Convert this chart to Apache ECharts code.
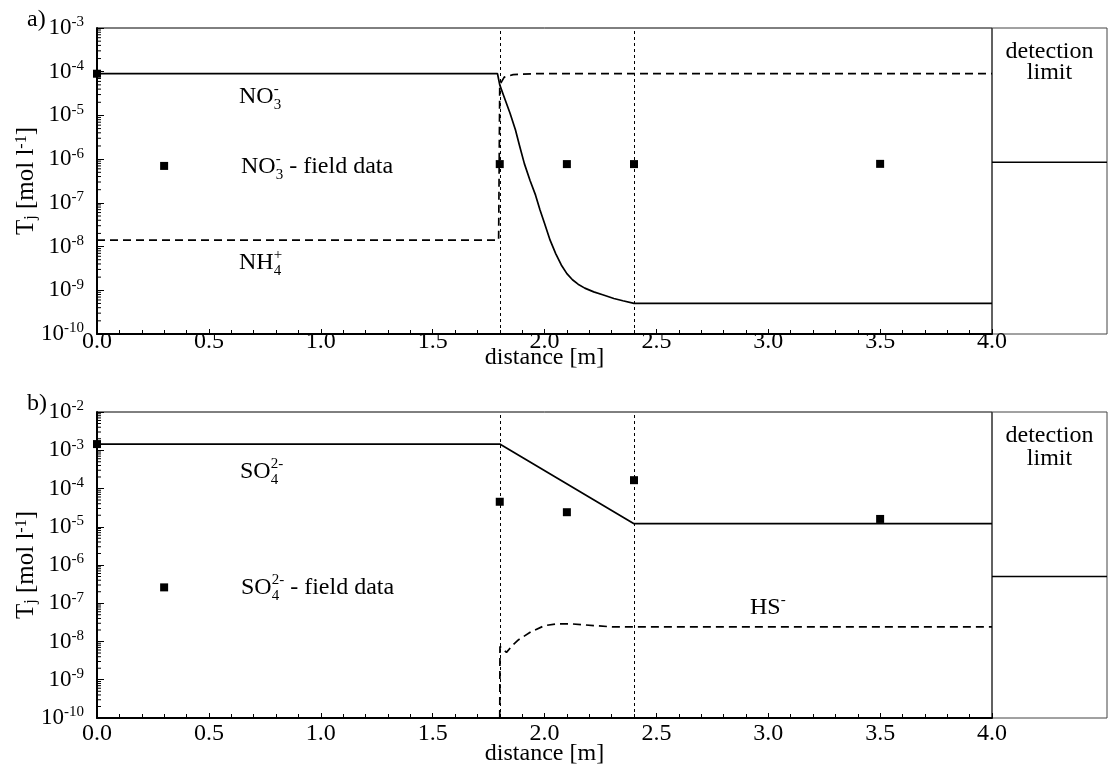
<!DOCTYPE html>
<html>
<head>
<meta charset="utf-8">
<script src="https://cdn.jsdelivr.net/npm/echarts@6/dist/echarts.min.js"></script>
<style>
html,body{margin:0;padding:0;background:#fff;}
#chart{width:1112px;height:782px;}
</style>
</head>
<body>
<div id="chart"></div>
<script>
// ---------- DATA ----------
// panel a
const no3ModelX = [0, 1.79, 1.80, 1.82, 1.846, 1.87, 1.89, 1.91, 1.935, 1.96, 1.98, 2.00, 2.025, 2.05, 2.075, 2.10, 2.125, 2.15, 2.18, 2.22, 2.26, 2.31, 2.35, 2.40, 4.0];
const no3ModelY = [9e-5, 9e-5, 5.0e-5, 2.6e-5, 1.12e-5, 4.7e-6, 1.9e-6, 7.9e-7, 3.3e-7, 1.5e-7, 6.9e-8, 3.4e-8, 1.4e-8, 6.9e-9, 3.8e-9, 2.4e-9, 1.74e-9, 1.38e-9, 1.12e-9, 9.2e-10, 7.9e-10, 6.5e-10, 5.75e-10, 5.0e-10, 5.0e-10];
const nh4ModelX = [0, 1.78, 1.795, 1.80, 1.82, 1.86, 1.95, 4.0];
const nh4ModelY = [1.4e-8, 1.4e-8, 1.4e-8, 5e-5, 7.5e-5, 8.6e-5, 9e-5, 9e-5];
const no3FieldX = [0, 0.3, 1.8, 2.1, 2.4, 3.5];
const no3FieldY = [9e-5, 7e-7, 7.7e-7, 7.7e-7, 7.7e-7, 7.8e-7];
const detLimitA = 8.5e-7;
// panel b
const so4ModelX = [0, 1.8, 2.4, 4.0];
const so4ModelY = [1.45e-3, 1.45e-3, 1.2e-5, 1.2e-5];
const hsModelX = [1.80, 1.801, 1.83, 1.86, 1.883, 1.94, 2.0, 2.055, 2.115, 2.22, 2.31, 2.40, 4.0];
const hsModelY = [1e-10, 7.4e-9, 5.2e-9, 8.3e-9, 1.1e-8, 1.8e-8, 2.6e-8, 2.9e-8, 2.9e-8, 2.6e-8, 2.4e-8, 2.4e-8, 2.4e-8];
const so4FieldX = [0, 0.3, 1.8, 2.1, 2.4, 3.5];
const so4FieldY = [1.45e-3, 2.6e-7, 4.5e-5, 2.4e-5, 1.65e-4, 1.6e-5];
const detLimitB = 5e-7;
// boundaries (vertical dotted lines)
const boundaries = [1.8, 2.4];
// axes
const xMin = 0, xMax = 4, xStep = 0.5;
const yMinA = 1e-10, yMaxA = 1e-3;
const yMinB = 1e-10, yMaxB = 1e-2;

// ---------- helpers ----------
const FONT = '"Liberation Serif", "Times New Roman", serif';
const zip = (xs, ys) => xs.map((x, i) => [x, ys[i]]);
function minorTickData(minV, maxV) {
  const out = [];
  const e0 = Math.round(Math.log10(minV)), e1 = Math.round(Math.log10(maxV));
  for (let e = e0; e < e1; e++) for (let m = 2; m <= 9; m++) out.push([0, m * Math.pow(10, e)]);
  return out;
}
const ctx = document.createElement('canvas').getContext('2d');
function tw(text, size) { ctx.font = size + 'px ' + FONT; return ctx.measureText(text).width; }

function chemLabel(x, y, main, sub, sup, tail) {
  const els = [];
  const M = 24, S = 15;
  els.push({type: 'text', x: x, y: y, style: {text: main, font: M + 'px ' + FONT, fill: '#000', align: 'left', verticalAlign: 'middle'}});
  let w = tw(main, M);
  let extra = 0;
  if (sub) {
    els.push({type: 'text', x: x + w, y: y + 8, style: {text: sub, font: S + 'px ' + FONT, fill: '#000', align: 'left', verticalAlign: 'middle'}});
    extra = Math.max(extra, tw(sub, S));
  }
  if (sup) {
    els.push({type: 'text', x: x + w, y: y - 8, style: {text: sup, font: S + 'px ' + FONT, fill: '#000', align: 'left', verticalAlign: 'middle'}});
    extra = Math.max(extra, tw(sup, S));
  }
  if (tail) {
    els.push({type: 'text', x: x + w + extra, y: y, style: {text: tail, font: M + 'px ' + FONT, fill: '#000', align: 'left', verticalAlign: 'middle'}});
  }
  return els;
}
function plainText(x, y, t, align) {
  return {type: 'text', x: x, y: y, style: {text: t, font: '24px ' + FONT, fill: '#000', align: align || 'left', verticalAlign: 'middle'}};
}

const yLabelRich = {
  b: {fontFamily: FONT, fontSize: 23, color: '#000', lineHeight: 26},
  s: {fontFamily: FONT, fontSize: 15, color: '#000', verticalAlign: 'top', lineHeight: 15}
};
const nameRich = {
  n: {fontFamily: FONT, fontSize: 25, color: '#000'},
  sub: {fontFamily: FONT, fontSize: 16, color: '#000', verticalAlign: 'bottom'},
  sup: {fontFamily: FONT, fontSize: 16, color: '#000', verticalAlign: 'top'}
};

function mainX(gridIndex, labelMargin, nameGap) {
  return {
    gridIndex: gridIndex, type: 'value', min: xMin, max: xMax, interval: xStep,
    axisLine: {show: true, onZero: false, lineStyle: {color: '#000', width: 2}},
    axisTick: {show: true, inside: true, length: 5, lineStyle: {color: '#000', width: 1}},
    minorTick: {show: true, splitNumber: 5, length: 4, lineStyle: {color: '#000', width: 1}},
    splitLine: {show: false},
    axisLabel: {fontFamily: FONT, fontSize: 24, color: '#000', margin: labelMargin, formatter: v => v.toFixed(1)},
    name: 'distance [m]', nameLocation: 'middle', nameGap: nameGap, nameMoveOverlap: false,
    nameTextStyle: {fontFamily: FONT, fontSize: 24, color: '#000'}
  };
}
function mainY(gridIndex, minV, maxV) {
  return {
    gridIndex: gridIndex, type: 'log', logBase: 10, min: minV, max: maxV,
    splitNumber: 8,
    axisLine: {show: true, onZero: false, lineStyle: {color: '#000', width: 2}},
    axisTick: {show: true, inside: true, length: 7, lineStyle: {color: '#000', width: 1}},
    splitLine: {show: false},
    axisLabel: {
      margin: 13, rich: yLabelRich,
      formatter: v => '{b|10}{s|' + Math.round(Math.log10(v)) + '}'
    },
    name: '{n|T}{sub|j}{n| [mol l}{sup|-1}{n|]}', nameLocation: 'middle', nameRotate: 90, nameGap: 58, nameMoveOverlap: false,
    nameTextStyle: {rich: nameRich}
  };
}
function boxX(gridIndex) { return {gridIndex: gridIndex, type: 'value', min: 0, max: 1, show: false}; }
function boxY(gridIndex, minV, maxV) { return {gridIndex: gridIndex, type: 'log', logBase: 10, min: minV, max: maxV, show: false}; }

function minorSeries(axisIdx, minV, maxV) {
  return {
    type: 'custom', xAxisIndex: axisIdx, yAxisIndex: axisIdx, silent: true, clip: false,
    data: minorTickData(minV, maxV),
    renderItem: function (params, api) {
      const p = api.coord([api.value(0), api.value(1)]);
      return {type: 'line', shape: {x1: p[0], y1: p[1], x2: p[0] + 4, y2: p[1]}, style: {stroke: '#000', lineWidth: 1}};
    }
  };
}
const boundaryMark = {
  silent: true, symbol: 'none', animation: false,
  label: {show: false},
  lineStyle: {type: [3, 3], width: 1, color: '#000'},
  data: boundaries.map(b => ({xAxis: b}))
};
const solid = {color: '#000', width: 1.7, type: 'solid'};
const dashed = {color: '#000', width: 1.7, type: [8, 5]};

const option = {
  animation: false,
  backgroundColor: '#fff',
  grid: [
    {left: 97, top: 28, width: 895, height: 306, show: true, borderColor: '#000', borderWidth: 1, backgroundColor: 'transparent'},
    {left: 97, top: 412, width: 895, height: 306, show: true, borderColor: '#000', borderWidth: 1, backgroundColor: 'transparent'},
    {left: 992, top: 28, width: 115, height: 306, show: true, borderColor: '#444', borderWidth: 1, backgroundColor: 'transparent'},
    {left: 992, top: 412, width: 115, height: 306, show: true, borderColor: '#444', borderWidth: 1, backgroundColor: 'transparent'}
  ],
  xAxis: [mainX(0, -4, 12), mainX(1, 4, 24), boxX(2), boxX(3)],
  yAxis: [mainY(0, yMinA, yMaxA), mainY(1, yMinB, yMaxB), boxY(2, yMinA, yMaxA), boxY(3, yMinB, yMaxB)],
  series: [
    {type: 'line', xAxisIndex: 0, yAxisIndex: 0, data: zip(no3ModelX, no3ModelY), showSymbol: false, symbol: 'none', lineStyle: solid, markLine: boundaryMark},
    {type: 'line', xAxisIndex: 0, yAxisIndex: 0, data: zip(nh4ModelX, nh4ModelY), showSymbol: false, symbol: 'none', lineStyle: dashed},
    {type: 'scatter', xAxisIndex: 0, yAxisIndex: 0, data: zip(no3FieldX, no3FieldY), symbol: 'rect', symbolSize: 8, itemStyle: {color: '#000', opacity: 1}, clip: false},
    minorSeries(0, yMinA, yMaxA),
    {type: 'line', xAxisIndex: 1, yAxisIndex: 1, data: zip(so4ModelX, so4ModelY), showSymbol: false, symbol: 'none', lineStyle: solid, markLine: boundaryMark},
    {type: 'line', xAxisIndex: 1, yAxisIndex: 1, data: zip(hsModelX, hsModelY), showSymbol: false, symbol: 'none', lineStyle: dashed},
    {type: 'scatter', xAxisIndex: 1, yAxisIndex: 1, data: zip(so4FieldX, so4FieldY), symbol: 'rect', symbolSize: 8, itemStyle: {color: '#000', opacity: 1}, clip: false},
    minorSeries(1, yMinB, yMaxB),
    {type: 'line', xAxisIndex: 2, yAxisIndex: 2, data: [[0, detLimitA], [1, detLimitA]], showSymbol: false, symbol: 'none', lineStyle: solid},
    {type: 'line', xAxisIndex: 3, yAxisIndex: 3, data: [[0, detLimitB], [1, detLimitB]], showSymbol: false, symbol: 'none', lineStyle: solid}
  ],
  graphic: [
    plainText(27, 20, 'a)'),
    plainText(27, 404, 'b)'),
    ...chemLabel(239, 97, 'NO', '3', '-', null),
    ...chemLabel(241, 167, 'NO', '3', '-', ' - field data'),
    ...chemLabel(239, 263, 'NH', '4', '+', null),
    ...chemLabel(240, 472, 'SO', '4', '2-', null),
    ...chemLabel(241, 588, 'SO', '4', '2-', ' - field data'),
    ...chemLabel(750, 608, 'HS', null, '-', null),
    plainText(1049.5, 52, 'detection', 'center'),
    plainText(1049.5, 73, 'limit', 'center'),
    plainText(1049.5, 436, 'detection', 'center'),
    plainText(1049.5, 459, 'limit', 'center')
  ]
};
const chart = echarts.init(document.getElementById('chart'));
chart.setOption(option);
</script>
</body>
</html>
